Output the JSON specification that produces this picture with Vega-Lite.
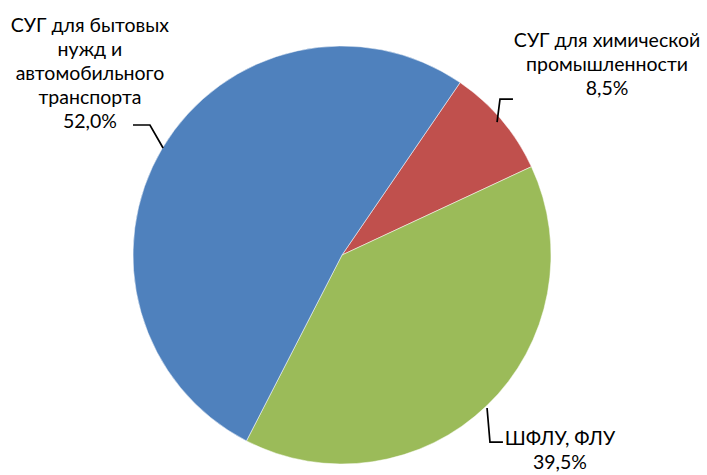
{
  "$schema": "https://vega.github.io/schema/vega-lite/v6.json",
  "width": 418,
  "height": 418,
  "autosize": "none",
  "padding": {"left": 133, "top": 46, "right": 156, "bottom": 11},
  "background": "white",
  "config": {"view": {"stroke": null}},
  "layer": [
    {
      "data": {"values": [
        {"cat": "СУГ для химической промышленности", "value": 8.5, "ord": 1},
        {"cat": "ШФЛУ, ФЛУ", "value": 39.5, "ord": 2},
        {"cat": "СУГ для бытовых нужд и автомобильного транспорта", "value": 52.0, "ord": 3}
      ]},
      "mark": {"type": "arc", "stroke": "white", "strokeWidth": 0.5},
      "encoding": {
        "theta": {"field": "value", "type": "quantitative", "stack": true, "scale": {"range": [0.6004, 6.8836]}},
        "order": {"field": "ord", "type": "quantitative"},
        "color": {
          "field": "cat", "type": "nominal", "legend": null,
          "scale": {
            "domain": ["СУГ для химической промышленности", "ШФЛУ, ФЛУ", "СУГ для бытовых нужд и автомобильного транспорта"],
            "range": ["#C0504D", "#9BBB59", "#4F81BD"]
          }
        }
      }
    },
    {
      "data": {"values": [
        {"g": "a", "p": 1, "x": -1.0, "y": 0.622},
        {"g": "a", "p": 2, "x": -0.919, "y": 0.622},
        {"g": "a", "p": 3, "x": -0.856, "y": 0.512},
        {"g": "b", "p": 1, "x": 0.818, "y": 0.746},
        {"g": "b", "p": 2, "x": 0.756, "y": 0.746},
        {"g": "b", "p": 3, "x": 0.742, "y": 0.636},
        {"g": "c", "p": 1, "x": 0.694, "y": -0.732},
        {"g": "c", "p": 2, "x": 0.708, "y": -0.895},
        {"g": "c", "p": 3, "x": 0.770, "y": -0.895}
      ]},
      "mark": {"type": "line", "color": "black", "strokeWidth": 1.7},
      "encoding": {
        "x": {"field": "x", "type": "quantitative", "scale": {"domain": [-1, 1]}, "axis": null},
        "y": {"field": "y", "type": "quantitative", "scale": {"domain": [-1, 1]}, "axis": null},
        "detail": {"field": "g"},
        "order": {"field": "p", "type": "quantitative"}
      }
    },
    {
      "data": {"values": [
        {"label": "СУГ для бытовых\nнужд и\nавтомобильного\nтранспорта\n52,0%", "x": -1.206, "y": 1.067},
        {"label": "СУГ для химической\nпромышленности\n8,5%", "x": 1.268, "y": 0.995},
        {"label": "ШФЛУ, ФЛУ\n39,5%", "x": 1.043, "y": -0.909}
      ]},
      "mark": {"type": "text", "lineBreak": "\n", "lineHeight": 24, "align": "center", "baseline": "alphabetic", "font": "Lato", "fontSize": 19.5, "color": "black"},
      "encoding": {
        "x": {"field": "x", "type": "quantitative", "scale": {"domain": [-1, 1]}, "axis": null},
        "y": {"field": "y", "type": "quantitative", "scale": {"domain": [-1, 1]}, "axis": null},
        "text": {"field": "label"}
      }
    }
  ]
}
